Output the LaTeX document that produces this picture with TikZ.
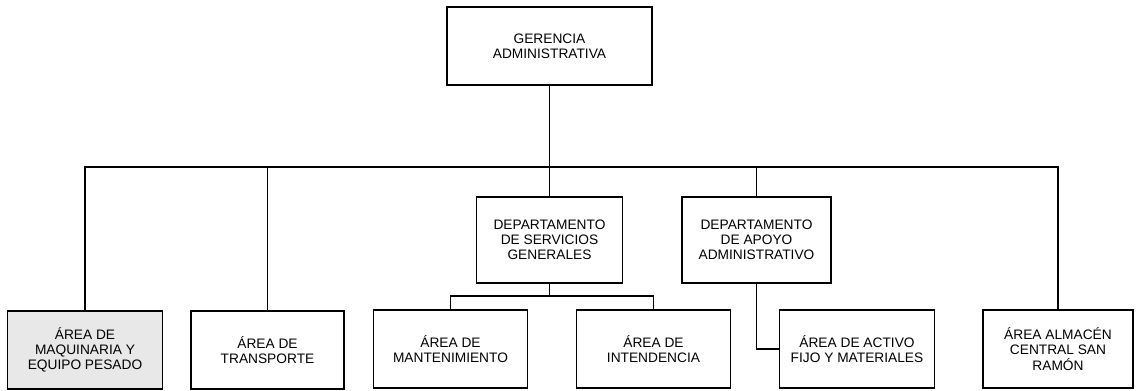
\documentclass[tikz,border=0pt]{standalone}
\usepackage{fontspec}
\setmainfont{Liberation Sans}
\usetikzlibrary{positioning,calc}

\begin{document}
\begin{tikzpicture}[x=0.75pt,y=-0.75pt,
  caja/.style={draw,line width=0.9pt,align=center,inner sep=2pt,
    font=\fontsize{10.3}{11.4}\selectfont,minimum width=116pt,minimum height=58.5pt},
  depto/.style={caja,minimum width=110pt,minimum height=64.5pt},
  linea/.style={line width=0.8pt}]
\useasboundingbox (0,0) rectangle (1136,390);
% dirección
\node[caja,minimum width=153.75pt] (ger) at (549.5,46) {GERENCIA\\ADMINISTRATIVA};
% departamentos
\node[depto] (dsg) at (549.5,240) {DEPARTAMENTO\\DE SERVICIOS\\GENERALES};
\node[depto,minimum width=111.75pt] (dapa) at (756.5,240) {DEPARTAMENTO\\DE APOYO\\ADMINISTRATIVO};
% áreas
\node[caja,fill=gray!18] (maq) at (85,350) {ÁREA DE\\MAQUINARIA Y\\EQUIPO PESADO};
\node[caja,minimum width=114.75pt] (tra) at (267.5,350) {ÁREA DE\\TRANSPORTE};
\node[caja] (man) at (450.5,349) {ÁREA DE\\MANTENIMIENTO};
\node[caja] (int) at (653.5,349) {ÁREA DE\\INTENDENCIA};
\node[caja] (act) at (857,349) {ÁREA DE ACTIVO\\FIJO Y MATERIALES};
\node[caja,minimum width=112.5pt] (alm) at (1058,349) {ÁREA ALMACÉN\\CENTRAL SAN\\RAMÓN};
% conectores
\coordinate (bus) at (549.5,167);
\coordinate (sgbus) at (549.5,296);
\draw[linea] (ger) -- (bus);
\draw[linea] (maq.north) |- (bus) -| (alm.north);
\draw[linea] (tra.north) -- (tra.north |- bus);
\draw[linea] (dsg.north) -- (bus);
\draw[linea] (dapa.north) -- (dapa.north |- bus);
\draw[linea] (dsg.south) -- (sgbus);
\draw[linea] (man.north) |- (sgbus) -| (int.north);
\draw[linea] (dapa.south) |- (act.west);
\end{tikzpicture}
\end{document}
